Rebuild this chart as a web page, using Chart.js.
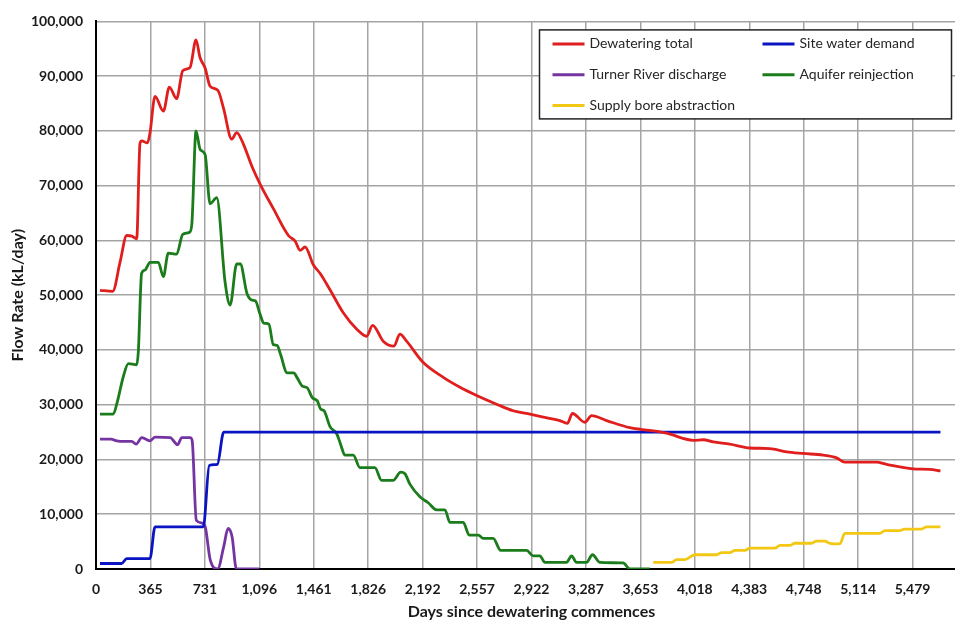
<!DOCTYPE html>
<html>
<head>
<meta charset="utf-8">
<script src="https://cdn.jsdelivr.net/npm/chart.js@4.4.1/dist/chart.umd.min.js"></script>
<style>
html,body{margin:0;padding:0;overflow:hidden;background:#fff;width:955px;height:621px}
#wrap{width:968px;height:621px}
canvas{display:block}
</style>
</head>
<body>
<div id="wrap"><canvas id="c" width="968" height="621"></canvas></div>
<script>
// ---- Axis ticks ----
const xTickValues = [0,365.25,730.5,1095.75,1461,1826.25,2191.5,2556.75,2922,3287.25,3652.5,4017.75,4383,4748.25,5113.5,5478.75];
const xTickLabels = ['0','365','731','1,096','1,461','1,826','2,192','2,557','2,922','3,287','3,653','4,018','4,383','4,748','5,114','5,479'];
const yTickValues = [0,10000,20000,30000,40000,50000,60000,70000,80000,90000,100000];
const yTickLabels = ['0','10,000','20,000','30,000','40,000','50,000','60,000','70,000','80,000','90,000','100,000'];

// ---- Series ----
const seriesNames = ['Dewatering total','Site water demand','Turner River discharge','Aquifer reinjection','Supply bore abstraction'];

const dewateringDays = [27,112,161,206,240,273,295,306,345,362,396,452,492,541,582,631,671,698,732,765,818,855,911,944,989,1045,1101,1190,1291,1336,1369,1403,1459,1503,1570,1659,1750,1816,1856,1927,1999,2039,2084,2196,2330,2442,2554,2688,2799,2889,2956,3112,3162,3197,3280,3325,3426,3582,3716,3828,4007,4074,4141,4253,4387,4521,4633,4745,4879,4969,5024,5147,5237,5304,5482,5594,5666];
const dewateringFlow = [50900,50700,56000,60900,60800,60300,77700,78200,77800,79600,86300,83600,88000,85900,91000,91600,96600,93400,91500,88200,87400,84200,78500,79700,77600,73600,70300,65800,60900,59900,58200,58800,55500,54000,51000,46800,43800,42500,44500,41600,40700,42900,41600,37700,35000,33200,31700,30100,28900,28400,28000,27100,26600,28400,26800,28000,27100,25800,25300,24800,23500,23600,23200,22800,22100,22000,21400,21100,20800,20300,19500,19500,19500,19100,18300,18200,17900];

const demandDays = [27,172,206,362,396,720,760,814,857,5666];
const demandFlow = [1000,1000,1900,1900,7700,7700,18900,19100,25000,25000];

const riverDays = [27,100,140,184,240,269,307,335,363,397,498,547,576,632,645,673,711,733,767,816,857,886,913,942,1096];
const riverFlow = [23700,23700,23400,23300,23300,22800,24000,23700,23400,24100,24000,22700,24000,24000,23500,8900,8400,7700,1600,0,4100,7400,5900,0,0];

const reinjectionDays = [27,116,139,184,217,273,284,306,329,362,418,452,485,541,582,627,643,671,699,732,765,810,866,900,944,968,1013,1047,1069,1101,1126,1160,1189,1216,1238,1283,1327,1350,1384,1417,1451,1485,1507,1530,1570,1615,1641,1670,1726,1771,1871,1916,1994,2044,2073,2106,2173,2229,2285,2341,2375,2464,2504,2565,2598,2665,2715,2889,2933,2978,3012,3157,3191,3224,3291,3331,3381,3537,3582,3716];
const reinjectionFlow = [28300,28300,30100,35200,37500,37300,39700,54000,54600,56000,56000,53400,57700,57500,61100,61500,63000,80000,76600,75700,66700,67800,52400,48200,55700,55700,50300,49100,49000,46500,44900,44700,41000,40800,39200,35800,35800,34900,33400,33100,31300,30700,29200,28900,26000,24700,22800,20800,20800,18500,18500,16200,16200,17700,17400,15500,13200,12100,10800,10800,8500,8500,6200,6200,5600,5600,3400,3400,2400,2400,1200,1200,2400,1200,1200,2600,1200,1100,0,0];

const supplyDays = [3739,3862,3895,3951,4018,4164,4197,4253,4287,4354,4387,4555,4588,4655,4689,4801,4834,4890,4924,4991,5024,5259,5293,5393,5427,5539,5572,5666];
const supplyFlow = [1200,1200,1700,1700,2600,2600,3000,3000,3400,3400,3800,3800,4300,4300,4700,4700,5100,5100,4700,4600,6500,6500,7000,7000,7300,7300,7700,7700];

const seriesColors = ['#e01e1e','#0a14c2','#7434a2','#1b7c1b','#f2c814'];

function pairs(xs, ys){ return xs.map((x,i)=>({x:x, y:ys[i]})); }

const allSeries = [
  pairs(dewateringDays, dewateringFlow),
  pairs(demandDays, demandFlow),
  pairs(riverDays, riverFlow),
  pairs(reinjectionDays, reinjectionFlow),
  pairs(supplyDays, supplyFlow)
];

const FONT = 'Lato';
const TXT = '#1a1a1a';

const boxLegend = {
  id: 'boxLegend',
  afterDraw(chart){
    const {ctx, chartArea} = chart;
    const ds = chart.data.datasets;
    const right = chartArea.right - 15.5;
    const left = right - 412;
    const top = chartArea.top + 8.5;
    const h = 89;
    ctx.save();
    ctx.fillStyle = '#fff';
    ctx.fillRect(left, top, right-left, h);
    ctx.strokeStyle = '#222';
    ctx.lineWidth = 1.5;
    ctx.strokeRect(left, top, right-left, h);
    ctx.font = '14px ' + FONT;
    ctx.textBaseline = 'middle';
    ctx.textAlign = 'left';
    ds.forEach((d,i)=>{
      const col = i % 2, row = Math.floor(i/2);
      const lx = left + 13 + col*210;
      const ly = top + 14 + row*30.8;
      ctx.strokeStyle = d.borderColor;
      ctx.lineWidth = 3;
      ctx.beginPath(); ctx.moveTo(lx, ly); ctx.lineTo(lx+32, ly); ctx.stroke();
      ctx.fillStyle = '#262626';
      ctx.fillText(d.label, lx+37, ly);
    });
    ctx.restore();
  }
};

new Chart(document.getElementById('c'), {
  type: 'line',
  data: {
    datasets: allSeries.map((pts,i)=>({
      label: seriesNames[i],
      data: pts,
      borderColor: seriesColors[i],
      backgroundColor: seriesColors[i],
      borderWidth: 2.8,
      pointRadius: 0,
      fill: false,
      cubicInterpolationMode: 'monotone'
    }))
  },
  options: {
    responsive: false,
    animation: false,
    events: [],
    layout: { padding: { top: 19, right: 1, left: 0, bottom: 0 } },
    plugins: { legend: { display: false }, tooltip: { enabled: false } },
    scales: {
      x: {
        type: 'linear', min: 0, max: 5844,
        afterBuildTicks(s){ s.ticks = xTickValues.map(v=>({value:v})); },
        afterFit(s){ s.height = 52; },
        ticks: {
          autoSkip: false, maxRotation: 0, padding: 12, color: TXT,
          font: { family: FONT, size: 14, weight: 'bold' },
          callback: (v,i)=> xTickLabels[i]
        },
        grid: { color: '#a4a4a4', lineWidth: 1.5, drawTicks: false },
        border: { color: '#000', width: 2 },
        title: {
          display: true, text: 'Days since dewatering commences', color: TXT,
          font: { family: FONT, size: 16, weight: 'bold' },
          padding: { top: 0, bottom: 0 }
        }
      },
      y: {
        min: 0, max: 100000,
        afterBuildTicks(s){ s.ticks = yTickValues.map(v=>({value:v})); },
        afterFit(s){ s.width = 96; },
        ticks: {
          padding: 13, color: TXT,
          font: { family: FONT, size: 14, weight: 'bold' },
          callback: (v,i)=> yTickLabels[i]
        },
        grid: { color: '#a4a4a4', lineWidth: 1.5, drawTicks: false },
        border: { color: '#000', width: 2 },
        title: {
          display: true, text: 'Flow Rate (kL/day)', color: TXT,
          font: { family: FONT, size: 16, weight: 'bold' },
          padding: { top: 8, bottom: 0 }
        }
      }
    }
  },
  plugins: [boxLegend]
});
</script>
</body>
</html>
